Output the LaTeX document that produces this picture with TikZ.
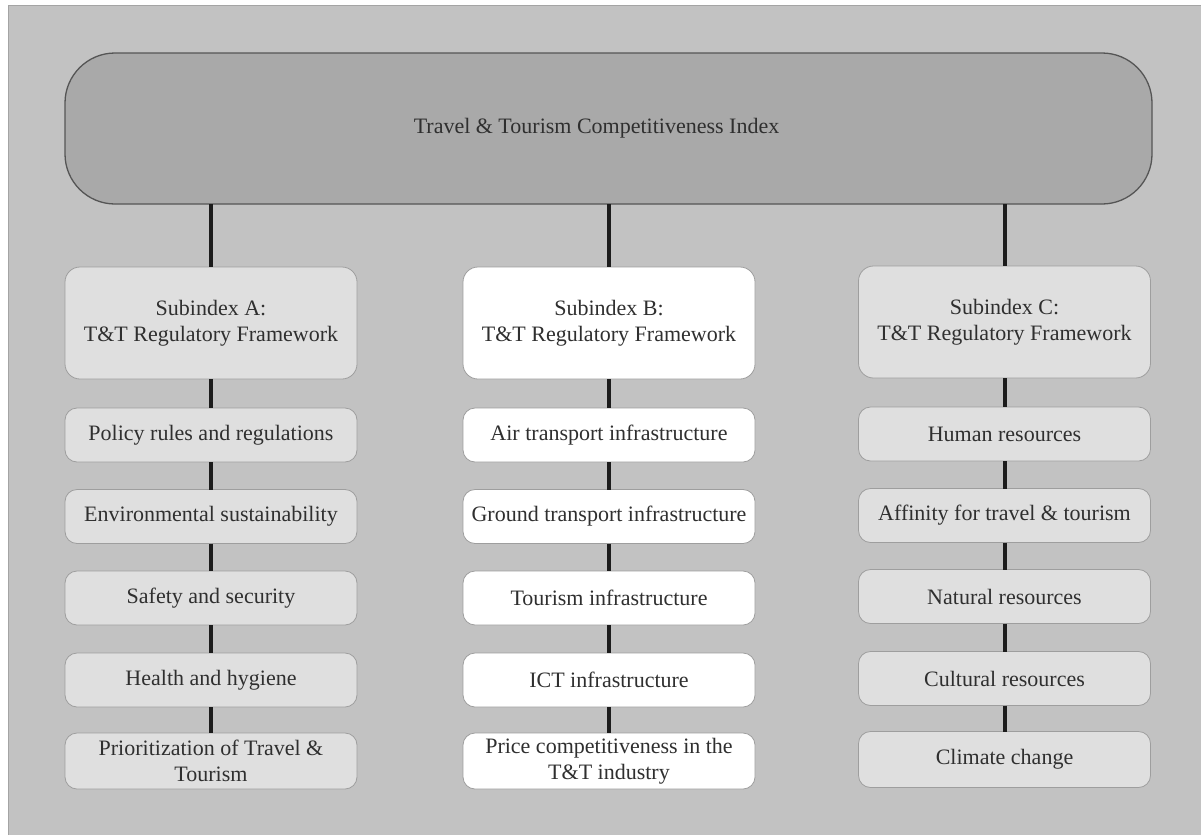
\documentclass[tikz,border=0pt]{standalone}
\usepackage{fontspec}
\setmainfont{Liberation Serif}
\definecolor{bg}{HTML}{C2C2C2}
\definecolor{lightfill}{HTML}{DFDFDF}
\definecolor{topfill}{HTML}{A9A9A9}
\definecolor{topedge}{HTML}{555555}
\definecolor{edge}{HTML}{9E9E9E}
\definecolor{linkc}{HTML}{1C1C1C}
\definecolor{txt}{HTML}{2F2F2F}
\definecolor{framec}{HTML}{A4A4A4}
\begin{document}
\begin{tikzpicture}[x=1pt,y=-1pt,
  every node/.style={font=\fontsize{22}{26.5}\selectfont, text=txt, inner sep=0pt, outer sep=0pt, align=center},
  topbox/.style={draw=topedge, line width=1.3pt, fill=topfill, rounded corners=50pt, minimum width=1087pt, minimum height=151pt},
  subbox/.style={draw=edge, line width=0.8pt, rounded corners=15pt, minimum width=292pt, minimum height=112pt},
  itembox/.style={draw=edge, line width=0.8pt, rounded corners=12pt, minimum width=292pt, minimum height=54pt},
  lastbox/.style={itembox, minimum height=56pt},
  grayfill/.style={fill=lightfill},
  whitefill/.style={fill=white},
  link/.style={line width=4pt, draw=linkc}]
\useasboundingbox (0,0) rectangle (1201,835);
\fill[white] (0,0) rectangle (1201,835);
\fill[bg] (8,5) rectangle (1201,835);
\draw[framec, line width=1pt] (8,835) -- (8,5) -- (1201,5);

\node[topbox] (top) at (608.5,128.5) {Travel \& Tourism Competitiveness Index\hspace*{24pt}};

% Column A
\node[subbox, grayfill] (a0) at (211,323) {Subindex A:\\T\&T Regulatory Framework};
\node[itembox, grayfill] (a1) at (211,435) {Policy rules and regulations};
\node[itembox, grayfill] (a2) at (211,516.5) {Environmental sustainability};
\node[itembox, grayfill] (a3) at (211,598) {Safety and security};
\node[itembox, grayfill] (a4) at (211,680) {Health and hygiene};
\node[lastbox, grayfill] (a5) at (211,761) {Prioritization of Travel \&\\Tourism};

% Column B
\node[subbox, whitefill] (b0) at (609,323) {Subindex B:\\T\&T Regulatory Framework};
\node[itembox, whitefill] (b1) at (609,435) {Air transport infrastructure};
\node[itembox, whitefill] (b2) at (609,516.5) {Ground transport infrastructure};
\node[itembox, whitefill] (b3) at (609,598) {Tourism infrastructure};
\node[itembox, whitefill] (b4) at (609,680) {ICT infrastructure};
\node[lastbox, whitefill] (b5) at (609,761) {Price competitiveness in the\\T\&T industry};

% Column C
\node[subbox, grayfill] (c0) at (1004.5,322) {Subindex C:\\T\&T Regulatory Framework};
\node[itembox, grayfill] (c1) at (1004.5,434) {Human resources};
\node[itembox, grayfill] (c2) at (1004.5,515.5) {Affinity for travel \& tourism};
\node[itembox, grayfill] (c3) at (1004.5,596.5) {Natural resources};
\node[itembox, grayfill] (c4) at (1004.5,678.5) {Cultural resources};
\node[lastbox, grayfill] (c5) at (1004.5,759.5) {Climate change};

% Connectors from top box
\foreach \c in {a,b,c}{
  \draw[link] (\c0.north |- top.south) -- (\c0.north);
}
% Column chains
\foreach \c in {a,b,c}{
  \foreach \i [evaluate=\i as \j using int(\i+1)] in {0,...,4}{
    \draw[link] (\c\i.south) -- (\c\j.north);
  }
}
\end{tikzpicture}
\end{document}
